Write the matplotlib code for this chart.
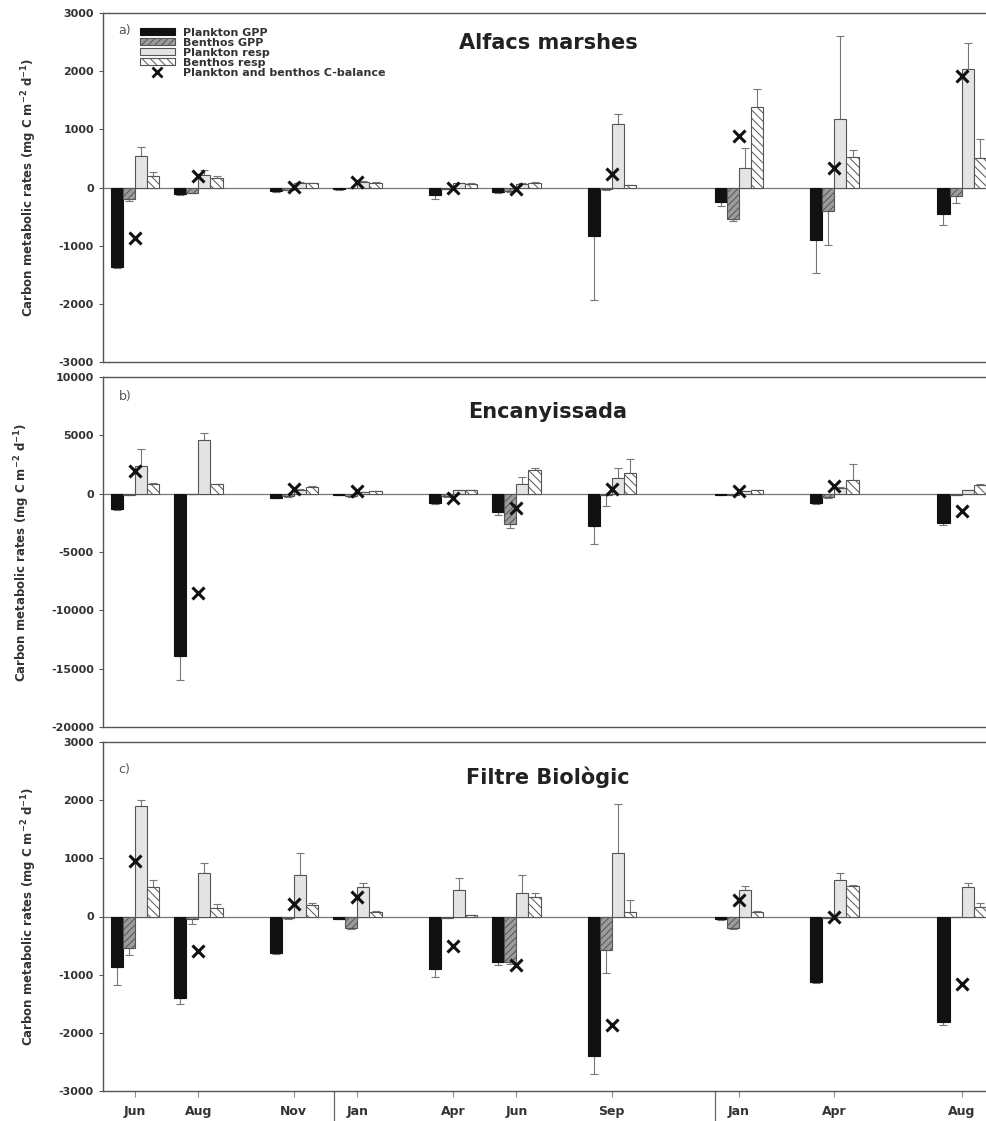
import matplotlib
matplotlib.use("Agg")
import matplotlib.pyplot as plt
from matplotlib.lines import Line2D
from matplotlib.patches import Patch
import numpy as np

# sampling dates (month index from first campaign) and labels
month_pos = [0, 2, 5, 7, 10, 12, 15, 19, 22, 26]
month_labels = ["Jun", "Aug", "Nov", "Jan", "Apr", "Jun", "Sep", "Jan", "Apr", "Aug"]
year_breaks = [6.25, 18.25]

# a) Alfacs marshes
plankton_gpp_a = [-1370, -110, -60, -30, -130, -80, -830, -250, -910, -450]
plankton_gpp_a_err = [20, 20, 10, 10, 70, 20, 1100, 70, 560, 190]
benthos_gpp_a = [-200, -90, -40, -10, -20, -60, -30, -550, -400, -150]
benthos_gpp_a_err = [40, 10, 10, 5, 10, 10, 10, 20, 580, 110]
plankton_resp_a = [540, 220, 80, 100, 70, 60, 1100, 340, 1170, 2040]
plankton_resp_a_err = [150, 80, 20, 20, 10, 10, 160, 340, 1430, 450]
benthos_resp_a = [200, 170, 70, 80, 60, 80, 40, 1390, 530, 500]
benthos_resp_a_err = [60, 20, 10, 10, 10, 10, 10, 300, 120, 330]
balance_a = [-860, 190, 10, 100, 0, -20, 240, 880, 340, 1910]

# b) Encanyissada
plankton_gpp_b = [-1300, -13900, -340, -100, -800, -1600, -2800, -100, -800, -2500]
plankton_gpp_b_err = [100, 2050, 50, 20, 100, 200, 1500, 20, 100, 200]
benthos_gpp_b = [-100, -50, -200, -200, -200, -2600, -150, -100, -300, -100]
benthos_gpp_b_err = [20, 20, 50, 50, 50, 300, 900, 20, 50, 20]
plankton_resp_b = [2400, 4600, 300, 100, 300, 860, 1300, 200, 500, 300]
plankton_resp_b_err = [1400, 600, 100, 50, 50, 540, 860, 50, 100, 50]
benthos_resp_b = [800, 800, 600, 200, 300, 2000, 1800, 300, 1200, 700]
benthos_resp_b_err = [100, 50, 50, 50, 50, 240, 1200, 50, 1300, 100]
balance_b = [1900, -8500, 400, 200, -400, -1200, 430, 200, 690, -1500]

# c) Filtre Biològic
plankton_gpp_c = [-870, -1400, -620, -40, -900, -780, -2400, -50, -1120, -1810]
plankton_gpp_c_err = [300, 100, 20, 10, 140, 60, 310, 10, 20, 60]
benthos_gpp_c = [-540, -50, -30, -200, -20, -780, -580, -190, -20, 0]
benthos_gpp_c_err = [130, 80, 10, 20, 10, 40, 390, 20, 10, 0]
plankton_resp_c = [1900, 740, 710, 500, 450, 400, 1090, 460, 620, 500]
plankton_resp_c_err = [100, 180, 390, 70, 220, 310, 840, 60, 120, 80]
benthos_resp_c = [500, 150, 200, 80, 20, 330, 80, 80, 520, 170]
benthos_resp_c_err = [120, 70, 30, 20, 5, 70, 210, 20, 20, 70]
balance_c = [960, -600, 220, 330, -500, -830, -1860, 290, 0, -1160]

panels = [
    dict(tag="a)", title="Alfacs marshes", ylim=(-3000, 3000), ticks=np.arange(-3000, 3001, 1000),
         series=[(plankton_gpp_a, plankton_gpp_a_err), (benthos_gpp_a, benthos_gpp_a_err),
                 (plankton_resp_a, plankton_resp_a_err), (benthos_resp_a, benthos_resp_a_err)],
         balance=balance_a, box=[103, 13, 362], tag_y=0.951, title_y=0.914),
    dict(tag="b)", title="Encanyissada", ylim=(-20000, 10000), ticks=np.arange(-20000, 10001, 5000),
         series=[(plankton_gpp_b, plankton_gpp_b_err), (benthos_gpp_b, benthos_gpp_b_err),
                 (plankton_resp_b, plankton_resp_b_err), (benthos_resp_b, benthos_resp_b_err)],
         balance=balance_b, box=[103, 377, 727], tag_y=0.943, title_y=0.9),
    dict(tag="c)", title="Filtre Biològic", ylim=(-3000, 3000), ticks=np.arange(-3000, 3001, 1000),
         series=[(plankton_gpp_c, plankton_gpp_c_err), (benthos_gpp_c, benthos_gpp_c_err),
                 (plankton_resp_c, plankton_resp_c_err), (benthos_resp_c, benthos_resp_c_err)],
         balance=balance_c, box=[103, 742, 1091], tag_y=0.92, title_y=0.9),
]

styles = [
    dict(color="#111111", edgecolor="#111111", hatch=None),
    dict(color="#9c9c9c", edgecolor="#555555", hatch="/////"),
    dict(color="#e4e4e4", edgecolor="#555555", hatch=None),
    dict(color="white", edgecolor="#555555", hatch="\\\\\\\\"),
]
names = ["Plankton GPP", "Benthos GPP", "Plankton resp", "Benthos resp"]

plt.rcParams["hatch.linewidth"] = 0.7
W, H = 986, 1121
fig = plt.figure(figsize=(W / 100, H / 100), dpi=100)

xlim = (-1.0, 27.5)
px_per_month = 31.8
width_px = (xlim[1] - xlim[0]) * px_per_month
bar_w = 0.38
x = np.array(month_pos, dtype=float)

for i, p in enumerate(panels):
    left, top, bottom = p["box"]
    ax = fig.add_axes([left / W, 1 - bottom / H, width_px / W, (bottom - top) / H])
    for k, ((vals, errs), st) in enumerate(zip(p["series"], styles)):
        vals = np.array(vals, dtype=float)
        errs = np.array(errs, dtype=float)
        pos = x + (k - 1.5) * bar_w
        ax.bar(pos, vals, width=bar_w, color=st["color"], edgecolor=st["edgecolor"],
               hatch=st["hatch"], linewidth=0.8, zorder=2)
        lower = np.where(vals < 0, errs, 0)
        upper = np.where(vals >= 0, errs, 0)
        ax.errorbar(pos, vals, yerr=[lower, upper], fmt="none", ecolor="#777777",
                    elinewidth=0.8, capsize=3, capthick=0.8, zorder=1)
    ax.plot(x, p["balance"], linestyle="none", marker="x", markersize=8,
            markeredgewidth=2.2, color="#111111", zorder=4)
    ax.axhline(0, color="#777777", linewidth=0.9, zorder=1.5)
    ax.set_xlim(*xlim)
    ax.set_ylim(*p["ylim"])
    ax.set_yticks(p["ticks"])
    ax.set_yticklabels([str(int(t)) for t in p["ticks"]], fontsize=8, fontweight="bold", color="#333333")
    ax.tick_params(axis="y", length=3, width=0.8, color="#555555")
    for sp in ax.spines.values():
        sp.set_color("#555555")
        sp.set_linewidth(1.0)
    ax.set_ylabel(r"Carbon metabolic rates (mg C m$^{\mathbf{-2}}$ d$^{\mathbf{-1}}$)",
                  fontsize=8.5, fontweight="bold", color="#333333", labelpad=14)
    ax.text(0.017, p["tag_y"], p["tag"], transform=ax.transAxes, fontsize=9,
            color="#555555", va="center", ha="left")
    ax.text(0.491, p["title_y"], p["title"], transform=ax.transAxes, fontsize=15,
            fontweight="bold", color="#222222", va="center", ha="center")
    if i < 2:
        ax.set_xticks([])
    else:
        ax.set_xticks(x)
        ax.set_xticklabels(month_labels, fontsize=9, fontweight="bold", color="#333333")
        ax.tick_params(axis="x", length=4, width=0.8, color="#888888", pad=6)
        for xb in year_breaks:
            ax.axvline(xb, ymin=-0.12, ymax=0, color="#666666", linewidth=0.9, clip_on=False)
    if i == 0:
        handles = [Patch(facecolor=st["color"], edgecolor=st["edgecolor"], hatch=st["hatch"],
                         linewidth=0.8) for st in styles]
        handles.append(Line2D([], [], linestyle="none", marker="x", markersize=7,
                              markeredgewidth=2, color="#111111"))
        leg = ax.legend(handles, names + ["Plankton and benthos C-balance"],
                        loc="upper left", bbox_to_anchor=(0.041, 0.958), frameon=False,
                        prop=dict(size=8, weight="bold"), handlelength=3.1,
                        handleheight=0.55, handletextpad=0.8, labelspacing=0.0,
                        borderaxespad=0, borderpad=0)
        for t in leg.get_texts():
            t.set_color("#333333")

fig.savefig("out.png", dpi=100)
